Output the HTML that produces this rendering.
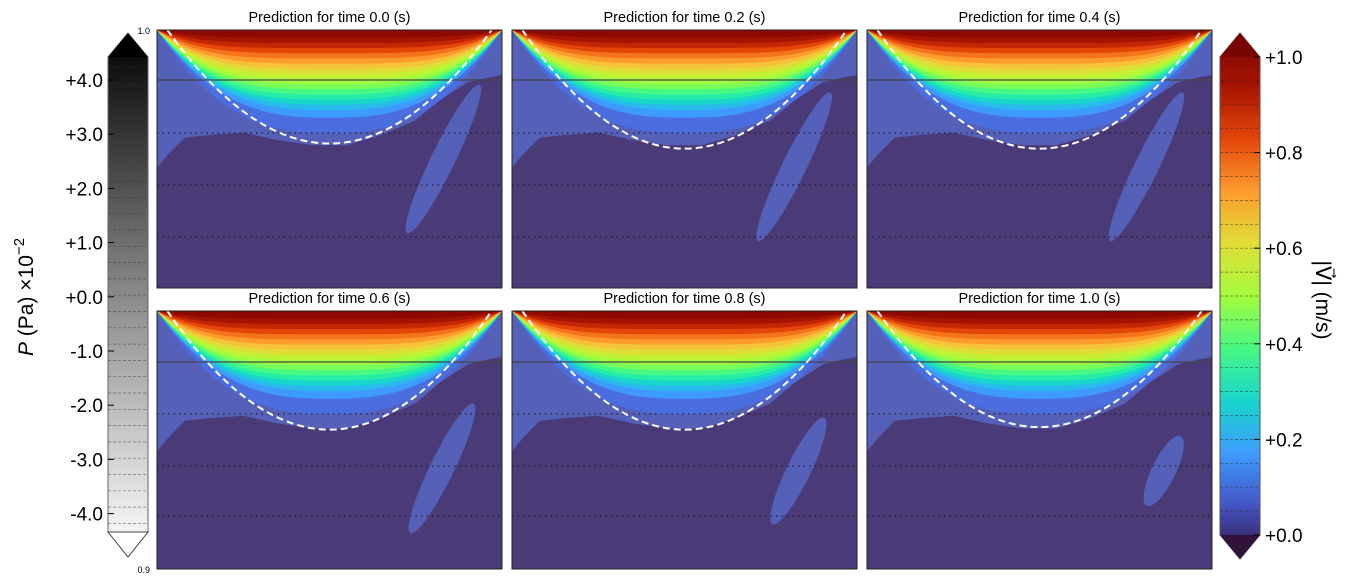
<!DOCTYPE html>
<html><head><meta charset="utf-8">
<style>
body{margin:0;background:#fff;width:1353px;height:585px;overflow:hidden;font-family:"Liberation Sans","DejaVu Sans",sans-serif;}
svg{display:block}
</style></head>
<body>
<svg id="fig" width="1353" height="585" viewBox="0 0 1353 585" xmlns="http://www.w3.org/2000/svg">
<defs>
<linearGradient id="pgrad" x1="0" y1="0" x2="0" y2="1">
<stop offset="0" stop-color="#000"/><stop offset="0.5" stop-color="#8a8a8a"/><stop offset="1" stop-color="#fff"/>
</linearGradient>
<linearGradient id="vgrad" x1="0" y1="1" x2="0" y2="0">
<stop offset="0" stop-color="#30123b"/><stop offset="0.1" stop-color="#4454c4"/><stop offset="0.2" stop-color="#3e9bfe"/><stop offset="0.3" stop-color="#18d6cb"/><stop offset="0.4" stop-color="#46f884"/><stop offset="0.5" stop-color="#a4fc3c"/><stop offset="0.6" stop-color="#e1dd37"/><stop offset="0.7" stop-color="#fe9b2d"/><stop offset="0.8" stop-color="#e4460a"/><stop offset="0.9" stop-color="#a51301"/><stop offset="1" stop-color="#7a0403"/>
</linearGradient>
</defs>
<g id="panels"></g>
<g id="cbars"></g>
</svg>
<script>
const times = ["0.0","0.2","0.4","0.6","0.8","1.0"];
const curveMin = [0.44,0.46,0.46,0.46,0.46,0.45];
const ellCU = [0.83,0.818,0.81,0.826,0.83,0.86];
const ellCV = [0.50,0.53,0.53,0.61,0.62,0.62];
const ellLen = [0.64,0.64,0.64,0.56,0.46,0.30];
const levels = [0.15,0.2,0.25,0.3,0.35,0.4,0.45,0.5,0.55,0.6,0.65,0.7,0.75,0.8,0.85,0.9,0.95];
const levelDepth = [0.40,0.34,0.31,0.29,0.27,0.25,0.23,0.21,0.19,0.17,0.15,0.13,0.11,0.09,0.07,0.05,0.03];
const levelColors = ["#4a6ee0","#3e9bfe","#28bbec","#18d6cb","#25eca7","#46f884","#78fe59","#a4fc3c","#c4f134","#e1dd37","#f6c23a","#fe9b2d","#f3741b","#e4460a","#c42502","#a51301","#8c0a01"];
const skirtU = [0,0.03,0.08,0.15,0.25,0.35,0.45,0.55,0.65,0.75,0.82,0.9,0.96,1];
const skirtV = [0.55,0.50,0.43,0.42,0.41,0.44,0.46,0.46,0.42,0.36,0.28,0.21,0.19,0.18];
const pTicks = ["+4.0","+3.0","+2.0","+1.0","+0.0","-1.0","-2.0","-3.0","-4.0"];
const vTicks = ["+0.0","+0.2","+0.4","+0.6","+0.8","+1.0"];
const vTickVals = [0,0.2,0.4,0.6,0.8,1.0];

const NS="http://www.w3.org/2000/svg";
function mk(tag,attrs,parent){const e=document.createElementNS(NS,tag);for(const k in attrs)e.setAttribute(k,attrs[k]);parent.appendChild(e);return e;}
const PX=[157,512,867], PY=[30,311], PW=345, PH=258;
const G=document.getElementById('panels');
for(let i=0;i<6;i++){
  const x0=PX[i%3], y0=PY[Math.floor(i/3)];
  const sx=u=>x0+u*PW, sy=v=>y0+v*PH;
  const g=mk('g',{},G);
  
  
  const cid='clip'+i;
  const cp=mk('clipPath',{id:cid},g); mk('rect',{x:x0,y:y0,width:PW,height:PH},cp);
  const inner=mk('g',{'clip-path':'url(#'+cid+')'},g);
  mk('rect',{x:x0,y:y0,width:PW,height:PH,fill:'#4b3a78'},inner);
  const ang=-64;
  const el=mk('ellipse',{cx:sx(ellCU[i]),cy:sy(ellCV[i]),rx:ellLen[i]*PH/2,ry:12,fill:'#5560b8',transform:`rotate(${ang} ${sx(ellCU[i])} ${sy(ellCV[i])})`},inner);
  
  
  let d=`M${x0} ${y0}`;
  for(let k=0;k<skirtU.length;k++) d+=` L${sx(skirtU[k])} ${sy(skirtV[k]*(0.97+0.02*Math.floor(i/3)))}`;
  d+=` L${x0+PW} ${y0} Z`;
  const sk=mk('path',{d:d,fill:'#5560b8'},inner);
  
  
  for(let k=0;k<levels.length;k++){
    const D=levelDepth[k];
    const ex = 2.2 + 2.5*(levels[k]);
    let p=`M${x0} ${y0}`;
    for(let s=0;s<=80;s++){const u=s/80; const t=Math.abs((u-0.5)/0.5); const dep=D*Math.max(0,1-Math.pow(t,ex)); p+=` L${sx(u)} ${sy(dep)}`;}
    p+=' Z';
    const b=mk('path',{d:p,fill:levelColors[k]},inner);
    
    
  }
  const ly = i<3 ? [80,133,185,237] : [362,414,466,516];
  ly.forEach((yy,j)=>{const ln=mk('line',{x1:x0,x2:x0+PW,y1:yy,y2:yy,stroke:j==0?'#444':'#111','stroke-width':j==0?1.2:1,'stroke-dasharray':j==0?'':'1.5 4'},inner);
    
    });
  let c='';
  for(let s=0;s<=50;s++){const u=0.03+0.94*s/50; const t=(u-0.5)/0.47; const v=curveMin[i]*(1-t*t); c+=(s?' L':'M')+sx(u)+' '+sy(v);}
  const cv=mk('path',{d:c,fill:'none',stroke:'#fff','stroke-width':2,'stroke-dasharray':'7 4'},inner);
  
  
  mk('rect',{x:x0,y:y0,width:PW,height:PH,fill:'none',stroke:'#222','stroke-width':1},g);
  const tt=mk('text',{x:x0+PW/2,y:y0-8,'text-anchor':'middle','font-size':14.5,fill:'#000'},g);
  tt.textContent='Prediction for time '+times[i]+' (s)';
  
  
}
const C=document.getElementById('cbars');
const pc=mk('g',{},C);


mk('path',{d:'M108 57 L128 33 L148 57 L148 532 L128 557 L108 532 Z',fill:'url(#pgrad)',stroke:'#666','stroke-width':1},pc);
mk('path',{d:'M108 57 L128 33 L148 57 Z',fill:'#000'},pc);
mk('path',{d:'M108 532 L128 557 L148 532 Z',fill:'#fff',stroke:'#444'},pc);
for(let y=67;y<530;y+=16.3){mk('line',{x1:108,x2:148,y1:y,y2:y,stroke:'#333','stroke-width':0.7,'stroke-dasharray':'3 2',opacity:0.6},pc);}
pTicks.forEach((t,j)=>{const y=80+j*54.2;mk('line',{x1:108,x2:114,y1:y,y2:y,stroke:'#000'},pc);
  const tx=mk('text',{x:103,y:y+7,'text-anchor':'end','font-size':19},pc);tx.textContent=t;
  
  });
let s1=mk('text',{x:150,y:34,'text-anchor':'end','font-size':9},pc);s1.textContent='1.0';
let s2=mk('text',{x:150,y:573,'text-anchor':'end','font-size':9},pc);s2.textContent='0.9';
const pl=mk('text',{transform:'translate(33 297) rotate(-90)','text-anchor':'middle','font-size':21},pc);
pl.innerHTML='<tspan font-style="italic">P</tspan> (Pa) ×10<tspan dy="-9" font-size="15">−2</tspan>';


const vc=mk('g',{},C);


mk('path',{d:'M1220 57 L1240 33 L1260 57 L1260 535 L1240 559 L1220 535 Z',fill:'url(#vgrad)',stroke:'#555','stroke-width':1},vc);
mk('path',{d:'M1220 57 L1240 33 L1260 57 Z',fill:'#7a0403'},vc);
mk('path',{d:'M1220 535 L1240 559 L1260 535 Z',fill:'#30123b'},vc);
for(let k=1;k<20;k++){const y=535-k*478/20;mk('line',{x1:1220,x2:1260,y1:y,y2:y,stroke:'#222','stroke-width':0.7,'stroke-dasharray':'3 2',opacity:0.6},vc);}
vTicks.forEach((t,j)=>{const y=535-vTickVals[j]*478;mk('line',{x1:1254,x2:1260,y1:y,y2:y,stroke:'#000'},vc);
  const tx=mk('text',{x:1265,y:y+7,'font-size':19},vc);tx.textContent=t;
  
  });
const vl=mk('text',{transform:'translate(1316 300) rotate(90)','text-anchor':'middle','font-size':21},vc);
vl.textContent='|V⃗| (m/s)';


</script>
</body></html>
